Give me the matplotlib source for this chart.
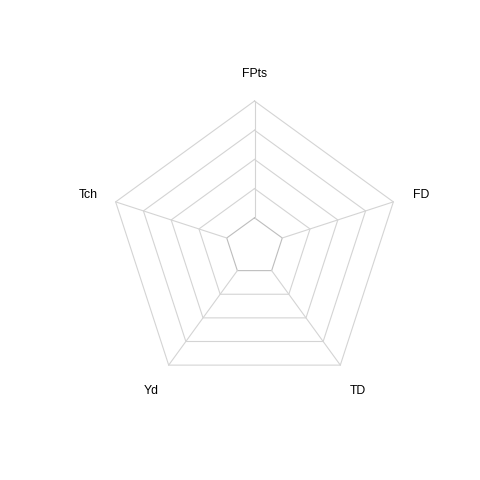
import numpy as np
import matplotlib
matplotlib.use("Agg")
import matplotlib.pyplot as plt

categories = ["FPts", "FD", "TD", "Yd", "Tch"]
levels = [0.2, 0.4, 0.6, 0.8, 1.0]

n = len(categories)
angles = np.pi / 2 - 2 * np.pi * np.arange(n) / n

fig = plt.figure(figsize=(4.8, 4.8), dpi=100)
ax = fig.add_axes([0, 0, 1, 1])
ax.set_xlim(-254.5 / 146, (480 - 254.5) / 146)
ax.set_ylim(-233 / 146, 247 / 146)
ax.set_aspect("auto")
ax.axis("off")

grid_color = "#d4d4d4"
for i, lv in enumerate(levels):
    xs = lv * np.cos(np.append(angles, angles[0]))
    ys = lv * np.sin(np.append(angles, angles[0]))
    ax.plot(xs, ys, color="#bdbdbd" if i == 0 else grid_color, lw=0.8)

for a in angles:
    ax.plot([levels[0] * np.cos(a), levels[-1] * np.cos(a)],
            [levels[0] * np.sin(a), levels[-1] * np.sin(a)],
            color=grid_color, lw=0.8)

dy = -2 / 146
for lab, a in zip(categories, angles):
    ax.text(1.2 * np.cos(a), 1.2 * np.sin(a) + dy, lab, ha="center", va="center",
            fontsize=8.8, family="Liberation Sans", color="black")

fig.savefig("out.png", dpi=100)
